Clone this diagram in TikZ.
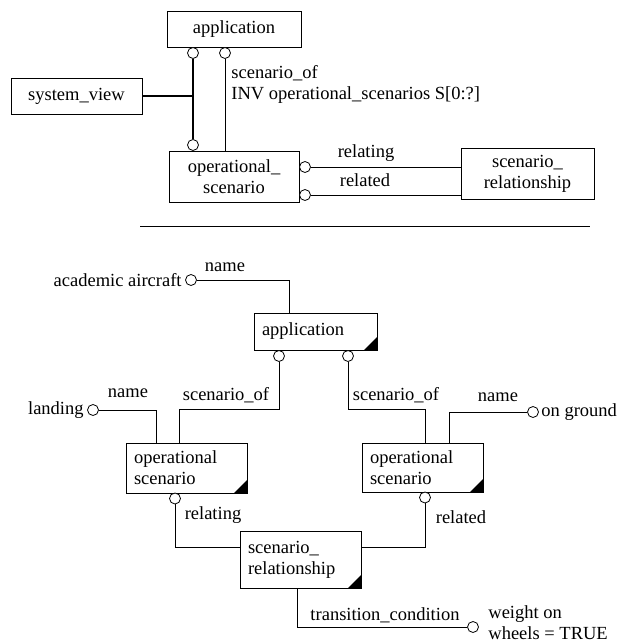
\documentclass[tikz,border=0pt]{standalone}
\usepackage{fontspec}
\setmainfont{Liberation Serif}
\newfontfamily\diagfont{Liberation Serif}
\usetikzlibrary{positioning, calc}

\begin{document}
\begin{tikzpicture}[x=1pt, y=-1pt, line width=0.8pt,
    every node/.style={font=\diagfont\fontsize{18.5}{21}\selectfont},
    entity/.style={draw, inner sep=0pt, align=center},
    instance/.style={draw, inner xsep=8pt, inner ysep=0pt, align=left,
        path picture={\fill ([xshift=-13pt]path picture bounding box.south east) -- (path picture bounding box.south east) -- ([yshift=13pt]path picture bounding box.south east) -- cycle;}},
    ring/.style={circle, draw, fill=white, minimum size=11pt, inner sep=0pt},
    lbl/.style={inner sep=1pt}]
    \useasboundingbox (0,0) rectangle (630,643);

    % schema
    \node[entity, minimum width=134, minimum height=36] (app) at (234,29) {application};
    \node[entity, minimum width=131, minimum height=36] (sysview) at (76.5,96) {system\_view};
    \node[entity, minimum width=130, minimum height=51] (opscen) at (234,176.5) {operational\_\\scenario};
    \node[entity, minimum width=133, minimum height=51] (screl) at (527.5,173.5) {scenario\_\\relationship};
    \node[ring] (appsv) at (193,53) {};
    \node[ring] (appinv) at (225,53) {};
    \node[ring] (opsv) at (193,145) {};
    \node[ring] (oprelating) at (305,167) {};
    \node[ring] (oprelated) at (305,195) {};
    \draw[line width=2.5pt] (appsv) -- (opsv);
    \draw[line width=2.5pt] (sysview.east) -- (sysview.east -| appsv);
    \draw (appinv) -- (appinv |- opscen.north);
    \draw (oprelating) -- (oprelating -| screl.west);
    \draw (oprelated) -- (oprelated -| screl.west);
    \node[lbl, anchor=west, align=left] (invlbl) at (230,84) {scenario\_of\\INV operational\_scenarios S[0:?]};
    \node[lbl] (relatinglbl) at (366,153) {relating};
    \node[lbl] (relatedlbl) at (365,180) {related};

    \draw (140,226) -- (590,226);

    % instances
    \node[instance, text width=107, minimum height=37] (app2) at (315.5,331.5) {application};
    \node[instance, text width=105, minimum height=50] (landscen) at (186.5,468) {operational\\scenario};
    \node[instance, text width=105, minimum height=49] (groundscen) at (422.5,467.5) {operational\\scenario};
    \node[instance, text width=105, minimum height=57] (transrel) at (300.5,559.5) {scenario\_\\relationship};

    \node[lbl, anchor=east] (aircraftval) at (183,280) {academic aircraft};
    \node[ring] (aircraftname) at (191,280) {};
    \coordinate (k1) at (289,280);
    \draw (aircraftname) -- (k1) -- (k1 |- app2.north);
    \node[lbl] (namelbl1) at (225,267) {name};

    \node[ring] (app2scen1) at (279,356) {};
    \node[ring] (app2scen2) at (348,356) {};
    \coordinate (k2) at (179,409);
    \coordinate (k3) at (425,409);
    \draw (app2scen1) |- (k2) -- (k2 |- landscen.north);
    \draw (app2scen2) |- (k3) -- (k3 |- groundscen.north);
    \node[lbl] (scenoflbl1) at (226,395) {scenario\_of};
    \node[lbl] (scenoflbl2) at (396,395) {scenario\_of};

    \node[lbl, anchor=east] (landingval) at (85,410) {landing};
    \node[ring] (landingname) at (93,410) {};
    \coordinate (k4) at (156,410);
    \draw (landingname) -- (k4) -- (k4 |- landscen.north);
    \node[lbl] (namelbl2) at (128,393) {name};

    \node[ring] (groundname) at (533,412) {};
    \node[lbl, anchor=west] (groundval) at (540,412) {on ground};
    \coordinate (k5) at (449,412);
    \draw (groundname) -- (k5) -- (k5 |- groundscen.north);
    \node[lbl] (namelbl3) at (498,397) {name};

    \node[ring] (landrelating) at (175,498.5) {};
    \coordinate (k6) at (175,547);
    \draw (landrelating) -- (k6) -- (k6 -| transrel.west);
    \node[lbl] (relatinglbl2) at (213,515) {relating};

    \node[ring] (groundrelated) at (425,497.5) {};
    \coordinate (k7) at (425,547);
    \draw (groundrelated) -- (k7) -- (k7 -| transrel.east);
    \node[lbl] (relatedlbl2) at (461,517) {related};

    \node[ring] (condval) at (473,627) {};
    \coordinate (k8) at (297,627);
    \draw (k8 |- transrel.south) -- (k8) -- (condval);
    \node[lbl] (condlbl) at (385,615) {transition\_condition};
    \node[lbl, anchor=west, align=left] (condtext) at (487,623) {weight on\\wheels = TRUE};
\end{tikzpicture}
\end{document}
